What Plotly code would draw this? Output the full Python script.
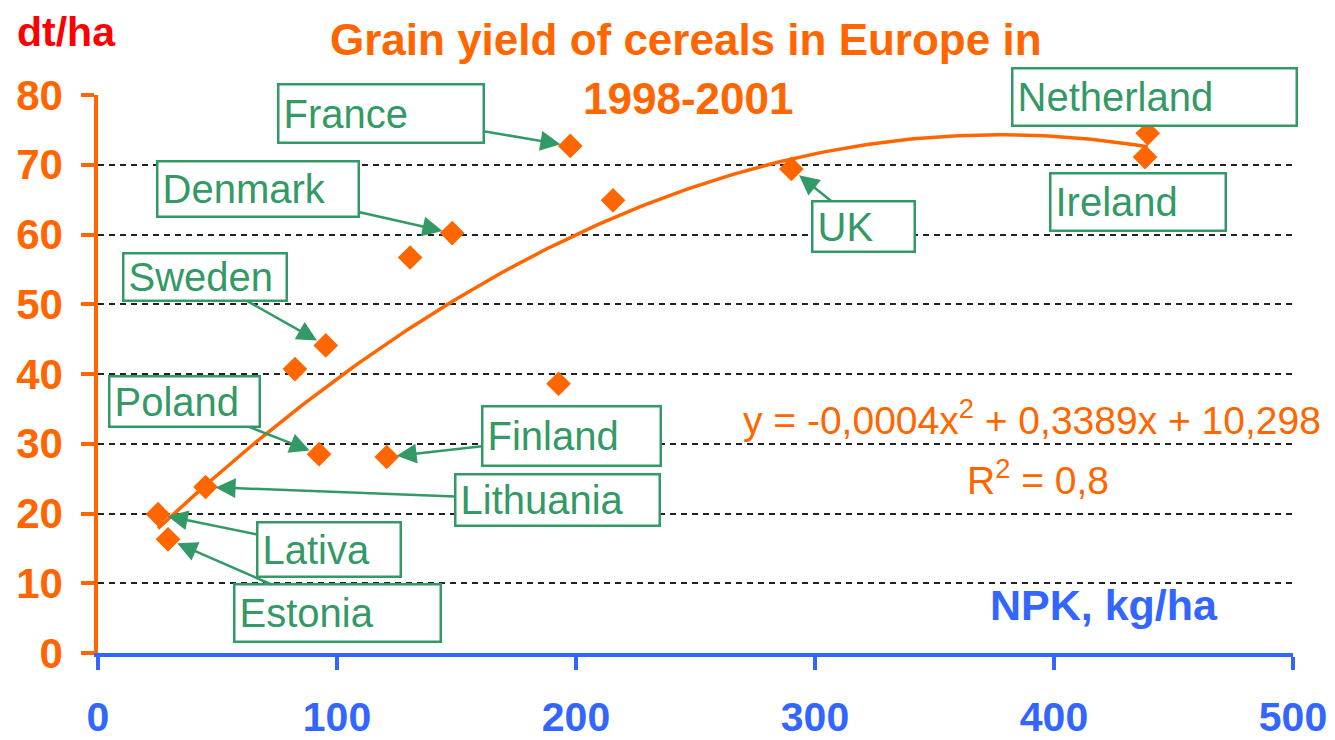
import numpy as np
import plotly.graph_objects as go

# ---- data ----
npk = [197.6, 215.5, 148.2, 130.6, 95.3, 82.4, 192.7, 92.5, 120.8, 45.0, 25.1, 29.3, 290.1, 439.2, 438.1]
grain_yield = [72.7, 64.9, 60.2, 56.7, 44.1, 40.7, 38.6, 28.5, 28.1, 23.8, 19.9, 16.3, 69.4, 74.5, 71.1]

label_names = ["France", "Denmark", "Sweden", "Poland", "Finland", "Lithuania",
               "Lativa", "Estonia", "UK", "Netherland", "Ireland"]
label_point = [0, 2, 4, 7, 8, 9, 10, 11, 12, None, None]   # index of point pointed at (None = no arrow)

x_ticks = [0, 100, 200, 300, 400, 500]
y_ticks = [0, 10, 20, 30, 40, 50, 60, 70, 80]

title_lines = ["Grain yield of cereals in Europe in", "1998-2001"]
eq_text = "y = -0,0004x<sup>2</sup> + 0,3389x + 10,298"
r2_text = "R<sup>2</sup> = 0,8"

# ---- label box layout (centre in data units, box size in px) ----
box_cx = [118.4, 66.9, 44.7, 36.3, 198.0, 192.2, 96.6, 100.2, 320.1, 442.1, 435.1]
box_cy = [77.3, 66.5, 53.9, 36.0, 31.1, 21.9, 14.9, 5.7, 61.1, 79.7, 64.7]
box_w = [208, 204, 166, 153, 181, 207, 146, 209, 105, 287, 178]
box_h = [61, 58, 50, 53, 62, 54, 57, 60, 53, 60, 60]

ORANGE = "#FF6600"
BLUE = "#3366FF"
GREEN = "#339966"
RED = "#FF0000"
FONT = "Arial, Liberation Sans, sans-serif"

# ---- quadratic trend fitted to the data ----
coef = np.polyfit(npk, grain_yield, 2)
xs = np.linspace(min(npk), max(npk), 200)
ys = np.polyval(coef, xs)

fig = go.Figure()
fig.add_trace(go.Scatter(x=xs, y=ys, mode="lines",
                         line=dict(color=ORANGE, width=3.5),
                         hoverinfo="skip", showlegend=False))
fig.add_trace(go.Scatter(x=npk, y=grain_yield, mode="markers",
                         marker=dict(symbol="diamond", size=19, color=ORANGE),
                         showlegend=False))

BW = 2.5
PAD = 4
for i, name in enumerate(label_names):
    common = dict(text=name, font=dict(family=FONT, size=40, color=GREEN),
                  bgcolor="white", bordercolor=GREEN, borderwidth=BW, borderpad=PAD,
                  width=box_w[i] - 2 * (BW + PAD), height=box_h[i] - 2 * (BW + PAD),
                  align="left", valign="middle")
    p = label_point[i]
    if p is None:
        fig.add_annotation(x=box_cx[i], y=box_cy[i], xref="x", yref="y",
                           xanchor="center", yanchor="middle",
                           showarrow=False, **common)
    else:
        fig.add_annotation(x=npk[p], y=grain_yield[p], xref="x", yref="y",
                           ax=box_cx[i], ay=box_cy[i], axref="x", ayref="y",
                           showarrow=True, arrowhead=2, arrowsize=1.6, arrowwidth=2.5,
                           arrowcolor=GREEN, standoff=10, **common)

# titles and texts
def ptext(text, x, y, size, color, bold=True):
    fig.add_annotation(text=text, x=x, y=y, xref="paper", yref="paper",
                       xanchor="center", yanchor="middle", showarrow=False,
                       font=dict(family=FONT, size=size, color=color,
                                 weight="bold" if bold else "normal"))

ptext(title_lines[0], 0.4924, 1.0986, 44, ORANGE)
ptext(title_lines[1], 0.4935, 0.9946, 44, ORANGE)
ptext("dt/ha", -0.0266, 1.1135, 41, RED)
ptext("NPK, kg/ha", 0.8415, 0.086, 43, BLUE)
ptext(eq_text, 0.7815, 0.422, 39, ORANGE, bold=False)
ptext(r2_text, 0.7866, 0.3145, 39, ORANGE, bold=False)

# white area behind the R² text hiding part of the 20 gridline, and the top-edge gridline
fig.add_shape(type="rect", xref="paper", yref="paper", x0=0.534, x1=1.01, y0=0.22, y1=0.355,
              fillcolor="white", line=dict(width=0), layer="between")
fig.add_shape(type="line", xref="paper", yref="y", x0=0, x1=1, y0=80, y1=80,
              line=dict(color="white", width=4), layer="between")

# the page adds an 8px body margin, so the figure is 8px smaller and margins shifted
fig.update_layout(
    width=1327, height=732,
    margin=dict(l=90, r=42, t=87, b=87),
    paper_bgcolor="white", plot_bgcolor="white",
    showlegend=False,
    xaxis=dict(range=[0, 500], tickvals=x_ticks, showgrid=False, zeroline=False,
               automargin=False, ticklabeloverflow="allow",
               showline=True, linecolor=BLUE, linewidth=3.5,
               ticks="outside", ticklen=13, tickwidth=3.5, tickcolor=BLUE,
               tickfont=dict(family=FONT, size=41, color=BLUE, weight="bold"),
               ticklabelstandoff=12),
    yaxis=dict(range=[0, 80], tickvals=y_ticks, showgrid=True, zeroline=False,
               automargin=False, ticklabeloverflow="allow",
               gridcolor="#222222", griddash="6px,5px", gridwidth=1.5,
               showline=True, linecolor=ORANGE, linewidth=3.5,
               ticks="outside", ticklen=13, tickwidth=3.5, tickcolor=ORANGE,
               tickfont=dict(family=FONT, size=42, color=ORANGE, weight="bold"),
               ticklabelstandoff=10),
)

fig.write_html("out.html")
